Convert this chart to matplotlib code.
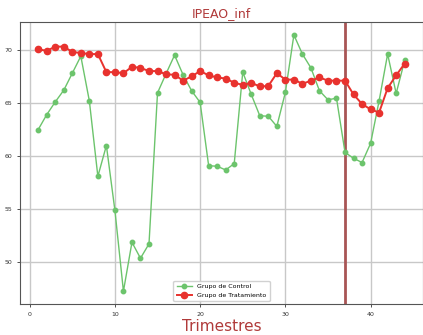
import matplotlib
matplotlib.use("Agg")
import matplotlib.pyplot as plt

trimestres = list(range(1, 45))
control = [62.5, 63.9, 65.1, 66.2, 67.8, 69.4, 65.2, 58.1, 61.0, 54.9,
           47.3, 51.9, 50.4, 51.75, 65.95, 67.75, 69.5, 67.65, 66.15, 65.05,
           59.1, 59.05, 58.7, 59.3, 67.9, 65.8, 63.8, 63.75, 62.8, 66.0,
           71.4, 69.6, 68.3, 66.15, 65.3, 65.45, 60.35, 59.8, 59.4, 61.2,
           65.2, 69.6, 65.9, 69.0]
tratamiento = [70.06, 69.9, 70.3, 70.3, 69.8, 69.7, 69.6, 69.6, 67.9, 67.9,
               67.8, 68.4, 68.3, 68.0, 68.0, 67.7, 67.65, 67.1, 67.5, 68.0,
               67.6, 67.4, 67.3, 66.9, 66.7, 66.9, 66.55, 66.6, 67.8, 67.2,
               67.2, 66.8, 67.1, 67.4, 67.1, 67.1, 67.1, 65.8, 64.9, 64.4,
               64.1, 66.4, 67.6, 68.7]
intervencion = 37
xticks = [0, 10, 20, 30, 40]
yticks = [50, 55, 60, 65, 70]

fig = plt.figure(figsize=(4.23, 3.35), dpi=100)
ax = fig.add_axes([0.047, 0.0925, 0.953, 0.8415])

ax.plot(trimestres, control, color='#6cc46c', marker='o', markersize=3.2,
        linewidth=1.0, label='Grupo de Control', zorder=3)
ax.plot(trimestres, tratamiento, color='#e8322e', marker='o', markersize=4.5,
        linewidth=1.4, label='Grupo de Tratamiento', zorder=4)
ax.axvline(intervencion, color='#a85555', linewidth=2.0, zorder=2)

ax.set_xticks(xticks)
ax.set_yticks(yticks)
ax.tick_params(labelsize=4.5, length=2, width=0.6, colors='#333333')
ax.grid(True, color='#c8c8c8', linewidth=1.0)
ax.set_axisbelow(True)
for s in ax.spines.values():
    s.set_color('#555555')
    s.set_linewidth(0.8)

ax.set_title('IPEAO_inf', color='#b03a3a', fontsize=9, pad=4)
ax.set_xlabel('Trimestres', color='#b03a3a', fontsize=11, labelpad=2)
ax.legend(loc='lower center', fontsize=4.5, framealpha=0.9, borderpad=0.5,
          handlelength=2.5)

fig.savefig('out.png', dpi=100)
